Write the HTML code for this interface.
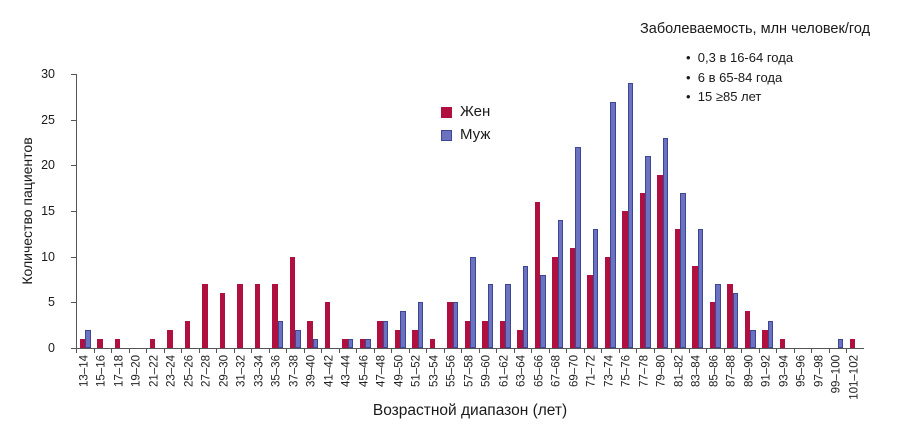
<!DOCTYPE html>
<html><head><meta charset="utf-8"><style>
body{margin:0;width:917px;height:433px;background:#fff;position:relative;overflow:hidden;font-family:"Liberation Sans","DejaVu Sans",sans-serif;color:#1a1a1a}
.abs{position:absolute}
#plot{position:absolute;left:76px;top:74px;width:788px;height:274px;display:flex}
.c{position:relative;width:17.5px;height:274px;flex:none}
.c::after{content:"";position:absolute;left:0;top:274px;width:1px;height:5px;background:#555}
.f,.m{position:absolute;bottom:0;width:5.5px;box-sizing:border-box}
.f{left:3.5px;height:calc(var(--f)*9.13px);background:#b0103f}
.m{left:9px;height:calc(var(--m)*9.13px);background:#6b72c0;border:1px solid #3d4594}
.l{position:absolute;top:281px;left:50%;writing-mode:vertical-rl;transform:translateX(-50%) rotate(180deg);font-size:11.5px;white-space:nowrap;line-height:1;color:#222}
.yt{position:absolute;right:862px;font-size:12.5px;transform:translateY(-50%)}
.tk{position:absolute;left:71px;width:5px;height:1px;background:#555}
</style></head><body>
<div class="abs" style="left:76px;top:74px;width:1px;height:274px;background:#555"></div>
<div class="abs" style="left:76px;top:348px;width:788px;height:1px;background:#555"></div>
<div class="tk" style="top:74px"></div><div class="tk" style="top:120px"></div><div class="tk" style="top:165px"></div><div class="tk" style="top:211px"></div><div class="tk" style="top:257px"></div><div class="tk" style="top:302px"></div><div class="tk" style="top:348px"></div>
<div class="yt" style="top:74px">30</div><div class="yt" style="top:120px">25</div><div class="yt" style="top:165px">20</div><div class="yt" style="top:211px">15</div><div class="yt" style="top:257px">10</div><div class="yt" style="top:302px">5</div><div class="yt" style="top:348px">0</div>
<div class="abs" style="left:27px;top:211px;transform:translate(-50%,-50%) rotate(-90deg);font-size:14px;white-space:nowrap">Количество пациентов</div>
<div class="abs" style="left:470px;top:402px;transform:translateX(-50%);font-size:15.5px;white-space:nowrap">Возрастной диапазон (лет)</div>
<div class="abs" style="left:441px;top:107px;width:11px;height:11px;background:#b0103f"></div>
<div class="abs" style="left:460px;top:103px;font-size:15px">Жен</div>
<div class="abs" style="left:441px;top:130px;width:11px;height:11px;background:#6b72c0;border:1px solid #3d4594;box-sizing:border-box"></div>
<div class="abs" style="left:460px;top:126px;font-size:15px">Муж</div>
<div class="abs" style="left:640px;top:21px;font-size:14.5px;white-space:nowrap">Заболеваемость, млн человек/год</div>
<div class="abs" style="left:686px;top:48px;font-size:13px;line-height:19.5px;white-space:nowrap">• &nbsp;0,3 в 16-64 года<br>• &nbsp;6 в 65-84 года<br>• &nbsp;15 ≥85 лет</div>
<div id="plot">
<div class="c" style="--f:1;--m:2"><i class="f"></i><i class="m"></i><span class="l">13–14</span></div>
<div class="c" style="--f:1;--m:0"><i class="f"></i><span class="l">15–16</span></div>
<div class="c" style="--f:1;--m:0"><i class="f"></i><span class="l">17–18</span></div>
<div class="c" style="--f:0;--m:0"><span class="l">19–20</span></div>
<div class="c" style="--f:1;--m:0"><i class="f"></i><span class="l">21–22</span></div>
<div class="c" style="--f:2;--m:0"><i class="f"></i><span class="l">23–24</span></div>
<div class="c" style="--f:3;--m:0"><i class="f"></i><span class="l">25–26</span></div>
<div class="c" style="--f:7;--m:0"><i class="f"></i><span class="l">27–28</span></div>
<div class="c" style="--f:6;--m:0"><i class="f"></i><span class="l">29–30</span></div>
<div class="c" style="--f:7;--m:0"><i class="f"></i><span class="l">31–32</span></div>
<div class="c" style="--f:7;--m:0"><i class="f"></i><span class="l">33–34</span></div>
<div class="c" style="--f:7;--m:3"><i class="f"></i><i class="m"></i><span class="l">35–36</span></div>
<div class="c" style="--f:10;--m:2"><i class="f"></i><i class="m"></i><span class="l">37–38</span></div>
<div class="c" style="--f:3;--m:1"><i class="f"></i><i class="m"></i><span class="l">39–40</span></div>
<div class="c" style="--f:5;--m:0"><i class="f"></i><span class="l">41–42</span></div>
<div class="c" style="--f:1;--m:1"><i class="f"></i><i class="m"></i><span class="l">43–44</span></div>
<div class="c" style="--f:1;--m:1"><i class="f"></i><i class="m"></i><span class="l">45–46</span></div>
<div class="c" style="--f:3;--m:3"><i class="f"></i><i class="m"></i><span class="l">47–48</span></div>
<div class="c" style="--f:2;--m:4"><i class="f"></i><i class="m"></i><span class="l">49–50</span></div>
<div class="c" style="--f:2;--m:5"><i class="f"></i><i class="m"></i><span class="l">51–52</span></div>
<div class="c" style="--f:1;--m:0"><i class="f"></i><span class="l">53–54</span></div>
<div class="c" style="--f:5;--m:5"><i class="f"></i><i class="m"></i><span class="l">55–56</span></div>
<div class="c" style="--f:3;--m:10"><i class="f"></i><i class="m"></i><span class="l">57–58</span></div>
<div class="c" style="--f:3;--m:7"><i class="f"></i><i class="m"></i><span class="l">59–60</span></div>
<div class="c" style="--f:3;--m:7"><i class="f"></i><i class="m"></i><span class="l">61–62</span></div>
<div class="c" style="--f:2;--m:9"><i class="f"></i><i class="m"></i><span class="l">63–64</span></div>
<div class="c" style="--f:16;--m:8"><i class="f"></i><i class="m"></i><span class="l">65–66</span></div>
<div class="c" style="--f:10;--m:14"><i class="f"></i><i class="m"></i><span class="l">67–68</span></div>
<div class="c" style="--f:11;--m:22"><i class="f"></i><i class="m"></i><span class="l">69–70</span></div>
<div class="c" style="--f:8;--m:13"><i class="f"></i><i class="m"></i><span class="l">71–72</span></div>
<div class="c" style="--f:10;--m:27"><i class="f"></i><i class="m"></i><span class="l">73–74</span></div>
<div class="c" style="--f:15;--m:29"><i class="f"></i><i class="m"></i><span class="l">75–76</span></div>
<div class="c" style="--f:17;--m:21"><i class="f"></i><i class="m"></i><span class="l">77–78</span></div>
<div class="c" style="--f:19;--m:23"><i class="f"></i><i class="m"></i><span class="l">79–80</span></div>
<div class="c" style="--f:13;--m:17"><i class="f"></i><i class="m"></i><span class="l">81–82</span></div>
<div class="c" style="--f:9;--m:13"><i class="f"></i><i class="m"></i><span class="l">83–84</span></div>
<div class="c" style="--f:5;--m:7"><i class="f"></i><i class="m"></i><span class="l">85–86</span></div>
<div class="c" style="--f:7;--m:6"><i class="f"></i><i class="m"></i><span class="l">87–88</span></div>
<div class="c" style="--f:4;--m:2"><i class="f"></i><i class="m"></i><span class="l">89–90</span></div>
<div class="c" style="--f:2;--m:3"><i class="f"></i><i class="m"></i><span class="l">91–92</span></div>
<div class="c" style="--f:1;--m:0"><i class="f"></i><span class="l">93–94</span></div>
<div class="c" style="--f:0;--m:0"><span class="l">95–96</span></div>
<div class="c" style="--f:0;--m:0"><span class="l">97–98</span></div>
<div class="c" style="--f:0;--m:1"><i class="m"></i><span class="l">99–100</span></div>
<div class="c" style="--f:1;--m:0"><i class="f"></i><span class="l">101–102</span></div>
</div>
</body></html>
